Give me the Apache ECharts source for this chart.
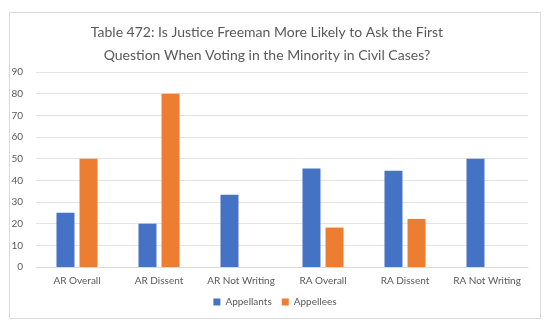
<!DOCTYPE html>
<html><head><meta charset="utf-8">
<script src="https://cdn.jsdelivr.net/npm/echarts@6/dist/echarts.min.js"></script>
<style>html,body{margin:0;padding:0;background:#fff}#c{width:550px;height:328px}</style>
</head><body><div id="c"></div>
<script>
const titleText = "Table 472: Is Justice Freeman More Likely to Ask the First\nQuestion When Voting in the Minority in Civil Cases?";
const categories = ["AR Overall", "AR Dissent", "AR Not Writing", "RA Overall", "RA Dissent", "RA Not Writing"];
const appellants = [25, 20, 33.3, 45.5, 44.4, 50];
const appellees = [50, 80, null, 18.2, 22.2, null];
const seriesNames = ["Appellants", "Appellees"];

const chart = echarts.init(document.getElementById('c'), null, {renderer: 'canvas'});
const font = "Lato, 'Open Sans', 'Liberation Sans', sans-serif";
chart.setOption({
  animation: false,
  graphic: [{type: 'rect', shape: {x: 9.5, y: 12.5, width: 531, height: 306}, style: {fill: 'none', stroke: '#d9d9d9', lineWidth: 1}, z: -1}],
  title: {
    text: titleText, left: 262, top: 16, textAlign: 'center',
    textStyle: {fontFamily: font, fontSize: 14, fontWeight: 'normal', color: '#595959', lineHeight: 23}
  },
  legend: {
    data: seriesNames, bottom: 16, left: 'center', itemWidth: 7, itemHeight: 7, itemGap: 10,
    icon: 'rect', textStyle: {fontFamily: font, fontSize: 10, color: '#595959'}
  },
  grid: {left: 36, right: 22, top: 72, bottom: 61, containLabel: false},
  xAxis: {
    type: 'category', data: categories,
    axisLine: {lineStyle: {color: '#d9d9d9'}}, axisTick: {show: false},
    axisLabel: {fontFamily: font, fontSize: 10, color: '#595959', margin: 9, interval: 0}
  },
  yAxis: {
    type: 'value', min: 0, max: 90, interval: 10,
    axisLine: {show: false}, axisTick: {show: false},
    splitLine: {lineStyle: {color: '#e3e3e3'}},
    axisLabel: {fontFamily: font, fontSize: 10, color: '#595959', margin: 13}
  },
  series: [
    {name: seriesNames[0], type: 'bar', data: appellants, itemStyle: {color: '#4472C4'}, barWidth: 18, barGap: '28%'},
    {name: seriesNames[1], type: 'bar', data: appellees, itemStyle: {color: '#ED7D31'}, barWidth: 18, barGap: '28%'}
  ]
});
</script></body></html>
